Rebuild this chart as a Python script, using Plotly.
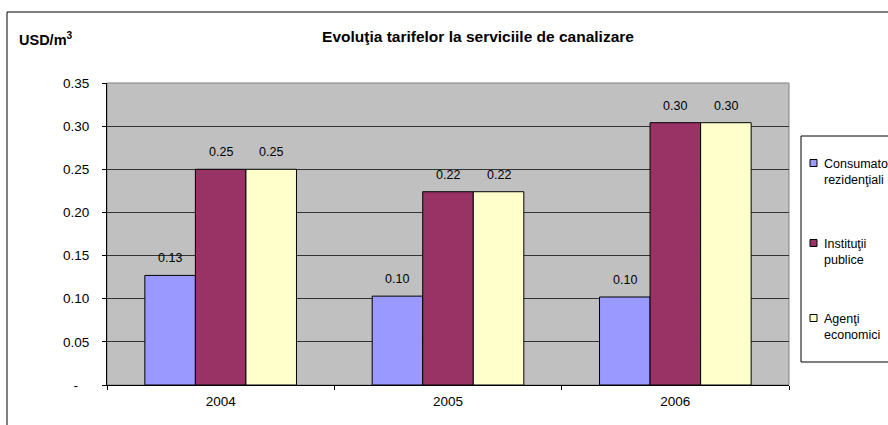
import plotly.graph_objects as go

# Sewerage service tariffs by consumer group, USD per cubic metre
years = ["2004", "2005", "2006"]
series_names = ["Consumatori<br>rezidenţiali", "Instituţii<br>publice", "Agenţi<br>economici"]
consumatori = [0.127, 0.103, 0.102]
institutii = [0.250, 0.224, 0.304]
agenti = [0.250, 0.224, 0.304]
colors = ["#9999FF", "#993366", "#FFFFCC"]

y_tickvals = [0, 0.05, 0.10, 0.15, 0.20, 0.25, 0.30, 0.35]
y_ticktext = ["-\u00a0\u00a0\u00a0", "0.05", "0.10", "0.15", "0.20", "0.25", "0.30", "0.35"]

FONT = "Liberation Sans, Arial, sans-serif"

# plot area in pixels
L, R, T, B = 107, 789, 83, 385
W, H = 888, 425
BARGAP = 0.333


def px_x(p):
    return (p - L) / (R - L)


def px_y(p):
    return (B - p) / (B - T)


series = [consumatori, institutii, agenti]
bar_px = (R - L) / len(years) * (1 - BARGAP) / len(series)

fig = go.Figure()
for i, (name, vals) in enumerate(zip(series_names, series)):
    fig.add_trace(go.Bar(
        x=years, y=vals, name=name,
        marker=dict(color=colors[i], line=dict(color="#000000", width=1)),
        showlegend=False,
    ))
    # value labels above each bar (category index positions on the x axis)
    for j, v in enumerate(vals):
        fig.add_annotation(x=j, y=v, text=f"{v:.2f}", showarrow=False,
                           xshift=(i - (len(series) - 1) / 2) * bar_px, yshift=17,
                           yanchor="middle",
                           font=dict(family=FONT, size=12.5, color="#000000"))

# outer chart frame
fig.add_shape(type="rect", xref="paper", yref="paper",
              x0=px_x(7), x1=px_x(895), y0=px_y(432), y1=px_y(12),
              line=dict(color="#000000", width=1), fillcolor="rgba(0,0,0,0)", layer="below")
# plot area border
fig.add_shape(type="rect", xref="paper", yref="paper",
              x0=0, x1=1, y0=0, y1=1,
              line=dict(color="#808080", width=1), fillcolor="rgba(0,0,0,0)", layer="below")

# legend box with swatches and labels
fig.add_shape(type="rect", xref="paper", yref="paper",
              x0=px_x(801), x1=px_x(900), y0=px_y(362), y1=px_y(136),
              line=dict(color="#000000", width=1), fillcolor="#FFFFFF")
legend_rows = [163, 243, 318]
for name, col, row in zip(series_names, colors, legend_rows):
    fig.add_shape(type="rect", xref="paper", yref="paper",
                  x0=px_x(810), x1=px_x(817), y0=px_y(row + 3.5), y1=px_y(row - 3.5),
                  line=dict(color="#000000", width=1), fillcolor=col)
    fig.add_annotation(text=name, xref="paper", yref="paper",
                       x=px_x(822), y=px_y(row - 8), xanchor="left", yanchor="top",
                       align="left", showarrow=False,
                       font=dict(family=FONT, size=12.5, color="#000000"))

fig.add_annotation(text="<b>USD/m<sup>3</sup></b>", xref="paper", yref="paper",
                   x=px_x(17), y=px_y(39), xanchor="left", yanchor="middle",
                   showarrow=False, font=dict(family=FONT, size=14.5, color="#000000"))

fig.update_layout(
    width=W, height=H,
    margin=dict(l=L, r=W - R, t=T, b=H - B, autoexpand=False),
    paper_bgcolor="#FFFFFF", plot_bgcolor="#C0C0C0",
    barmode="group", bargap=BARGAP, bargroupgap=0,
    font=dict(family=FONT, size=13.5, color="#000000"),
    title=dict(text="<b>Evoluţia tarifelor la serviciile de canalizare</b>",
               x=478 / W, xref="container", xanchor="center",
               y=1 - 37 / H, yref="container", yanchor="middle",
               font=dict(family=FONT, size=15.5, color="#000000")),
    showlegend=False,
    xaxis=dict(type="category", range=[-0.5, len(years) - 0.5],
               showline=True, linecolor="#000000", linewidth=1,
               ticks="outside", tickson="boundaries", ticklen=4, tickcolor="#000000",
               ticklabelstandoff=4, tickangle=0,
               showgrid=False, tickfont=dict(family=FONT, size=13.5)),
    yaxis=dict(range=[0, 0.35], tickvals=y_tickvals, ticktext=y_ticktext,
               showline=True, linecolor="#000000", linewidth=1,
               ticks="outside", ticklen=4, tickcolor="#000000",
               ticklabelstandoff=10,
               showgrid=True, gridcolor="#333333", gridwidth=1,
               zeroline=False, tickfont=dict(family=FONT, size=13.5)),
)

fig.write_html("out.html")
